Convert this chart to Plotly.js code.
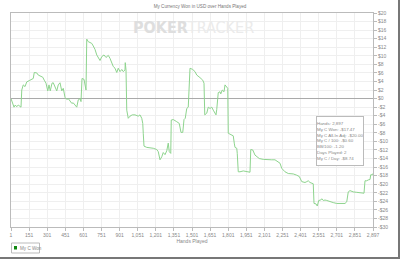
<!DOCTYPE html>
<html>
<head>
<meta charset="utf-8">
<script src="https://cdn.plot.ly/plotly-3.0.1.min.js"></script>
<style>
html,body{margin:0;padding:0;background:#fff;}
#wrap{position:relative;width:400px;height:259px;}
#chart{width:400px;height:259px;}
#frame{position:absolute;left:0;top:0;width:398px;height:257px;border-right:2px solid #777;border-bottom:2px solid #777;pointer-events:none;}
</style>
</head>
<body>
<div id="wrap"><div id="chart"></div><div id="frame"></div></div>
<script>
const hands = [1,15,25,35,47,59,73,81,87,99,
113,127,147,167,179,187,207,219,233,255,
267,281,295,305,315,329,339,353,367,379,
393,407,419,433,447,459,473,487,499,513,
527,539,553,561,569,585,595,601,607,619,
633,647,659,673,687,699,713,727,745,761,
779,793,807,819,833,847,859,873,887,899,
913,915,921,927,939,953,971,993,1019,1033,
1047,1055,1059,1065,1087,1113,1139,1167,1179,1193,
1207,1219,1233,1247,1259,1267,1279,1283,1299,1327,
1347,1361,1375,1385,1395,1407,1419,1433,1455,1473,
1487,1513,1535,1545,1551,1567,1579,1593,1607,1619,
1633,1641,1647,1651,1659,1673,1679,1691,1705,1713,
1727,1735,1739,1753,1767,1779,1787,1793,1807,1811,
1819,1833,1859,1887,1913,1919,1935,1953,1967,1987,
2019,2047,2087,2113,2131,2153,2167,2193,2219,2259,
2287,2307,2327,2353,2367,2379,2393,2407,2419,2425,
2441,2451,2463,2479,2487,2499,2513,2527,2553,2579,
2607,2633,2673,2687,2699,2713,2739,2767,2793,2819,
2825,2833,2847,2859,2873,2879,2895,2897];

const myCWon = [0,-1.5,-2.0,-1.5,-1.9,-1.5,-1.7,-2.0,2.0,3.2,
2.8,3.9,4.2,4.5,4.7,6.1,6.0,5.5,5.3,5.0,
4.3,3.6,1.8,3.2,1.8,3.6,3.7,2.8,1.8,3.2,
3.7,1.8,2.4,0.3,-0.2,0.0,-0.5,-1.1,-1.0,-1.5,
-2.0,-0.3,0.0,-0.7,4.7,4.5,2.8,2.0,13.9,13.3,
13.1,12.9,12.3,11.5,10.2,9.4,8.9,9.8,10.2,9.6,
10.1,9.4,8.2,7.5,7.1,6.1,7.1,6.3,6.8,6.3,
6.7,8.4,6.7,-2.7,-4.6,-4.1,-3.8,-3.8,-4.1,-3.8,
-4.6,-5.8,-8.1,-11.1,-11.4,-11.5,-11.6,-11.9,-12.4,-14.3,
-13.6,-12.6,-13.1,-12.2,-10.4,-12.4,-12.8,-5.0,-4.9,-5.4,
-5.8,-7.9,-7.9,-4.9,-4.6,-2.3,-2.0,7.1,6.8,6.3,
5.5,4.9,4.3,3.6,-3.8,-3.4,-2.0,-2.3,-2.0,-2.7,
-3.3,-3.8,-2.5,-0.3,1.4,1.6,1.1,2.0,1.6,3.2,
2.8,2.4,-8.1,-8.3,-8.5,-8.7,-10.4,-11.4,-11.6,-12.8,
-17.1,-17.1,-16.9,-17.1,-17.2,-11.9,-12.0,-13.2,-13.6,-14.0,
-14.2,-14.3,-14.3,-14.3,-14.7,-15.1,-16.3,-17.1,-17.5,-17.6,
-17.9,-18.2,-19.4,-19.6,-19.4,-19.2,-19.6,-19.8,-19.9,-24.5,
-24.6,-25.1,-23.8,-23.7,-23.4,-23.8,-23.7,-23.8,-24.1,-24.3,
-24.5,-24.5,-24.5,-24.1,-21.8,-21.5,-21.8,-21.9,-22.0,-22.1,
-22.1,-19.2,-19.2,-19.0,-18.9,-17.8,-17.8,-17.47];

const seriesName = 'My C Won';
const xTickLabels = ['1','151','301','451','601','751','901','1,051','1,201','1,351','1,501',
  '1,651','1,801','1,951','2,101','2,251','2,401','2,551','2,701','2,851','2,897'];
const yTickValues = [20,18,16,14,12,10,8,6,4,2,0,-2,-4,-6,-8,-10,-12,-14,-16,-18,-20,-22,-24,-26,-28,-30];
const yTickLabels = yTickValues.map(v => (v < 0 ? '-$' : '$') + Math.abs(v));
const statLines = ['Hands: 2,897','My C Won: -$17.47','My C All-In Adj: -$20.00','My C / 100: -$0.60',
  'BB/100: -1.20','Days Played: 2','My C / Day: -$8.74'];

const xMin = 1, xMax = 2897;
const xTickVals = xTickLabels.map((_, i) => xMin + i * (xMax - xMin) / (xTickLabels.length - 1));

// plot-area pixel helpers (plot spans x 11..373, y 13..227)
const PX = p => (p - 11) / 362;
const PY = p => (227 - p) / 214;

const FONT = 'Liberation Sans, Arial, sans-serif';
const traces = [
  {x: hands, y: myCWon, type: 'scatter', mode: 'lines', name: seriesName,
   line: {color: '#8ed48e', width: 1}, showlegend: false}
];

const tickFont = {family: FONT, size: 5, color: '#888'};

const layout = {
  width: 400, height: 259,
  margin: {l: 11, r: 27, t: 13, b: 32, pad: 0},
  paper_bgcolor: '#fff', plot_bgcolor: '#fff',
  showlegend: false,
  title: {text: 'My Currency Won in USD over Hands Played', x: 0.5, xanchor: 'center',
          y: 1 - 6/259, yanchor: 'middle', yref: 'container',
          font: {family: FONT, size: 4.6, color: '#777'}},
  xaxis: {range: [xMin, xMax], tickvals: xTickVals, ticktext: xTickLabels,
          showgrid: true, gridcolor: '#efefef', gridwidth: 1, zeroline: false,
          showline: true, linecolor: '#bbb', linewidth: 1, mirror: true,
          ticks: 'outside', ticklen: 3, tickcolor: '#bbb', tickfont: tickFont,
          title: {text: 'Hands Played', standoff: 1, font: {family: FONT, size: 5, color: '#888'}}},
  yaxis: {range: [-30, 20], side: 'right', tickvals: yTickValues, ticktext: yTickLabels,
          showgrid: true, gridcolor: '#efefef', gridwidth: 1,
          zeroline: true, zerolinecolor: '#aaa', zerolinewidth: 1,
          showline: true, linecolor: '#bbb', linewidth: 1, mirror: true,
          ticks: 'outside', ticklen: 3, tickcolor: '#bbb', tickfont: tickFont},
  shapes: [
    {type: 'rect', xref: 'paper', yref: 'paper', x0: PX(11.5), x1: PX(39.5), y0: PY(243), y1: PY(253),
     line: {color: '#bbb', width: 1}, fillcolor: '#fff'},
    {type: 'rect', xref: 'paper', yref: 'paper', x0: PX(14), x1: PX(17), y0: PY(246), y1: PY(249.5),
     line: {width: 0}, fillcolor: '#118811'}
  ],
  annotations: [
    {xref: 'paper', yref: 'paper', x: PX(18), y: PY(248), xanchor: 'left', yanchor: 'middle',
     showarrow: false, text: seriesName, font: {family: FONT, size: 4.6, color: '#888'}},
    {xref: 'paper', yref: 'paper', x: PX(193), y: PY(28), xanchor: 'center', yanchor: 'middle',
     showarrow: false,
     text: '<b><span style="color:#dedede">POKER</span></b><span style="color:#ebebeb">TRACKER</span>',
     font: {family: 'Liberation Sans Narrow, Arial Narrow, DejaVu Sans Condensed, sans-serif', size: 16}},
    {xref: 'paper', yref: 'paper', x: PX(316), y: PY(116),
     xanchor: 'left', yanchor: 'top', showarrow: false, align: 'left',
     text: statLines.join('<br>'), bgcolor: '#fff', bordercolor: '#bbb', borderwidth: 1, borderpad: 0,
     width: 46, height: 48,
     font: {family: FONT, size: 4.4, color: '#888'}}
  ]
};

Plotly.newPlot('chart', traces, layout, {displayModeBar: false, staticPlot: true});
</script>
</body>
</html>
